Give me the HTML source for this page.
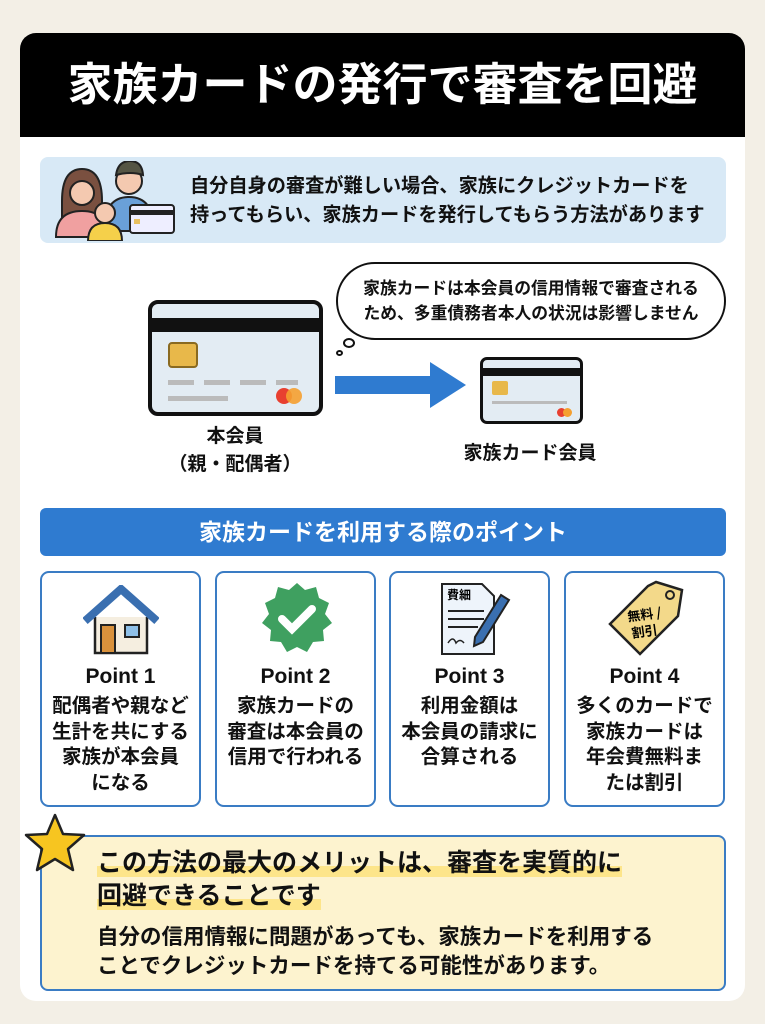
<!DOCTYPE html>
<html><head><meta charset="utf-8"><style>
*{margin:0;padding:0;box-sizing:border-box}
body{width:765px;height:1024px;background:#f3efe6;font-family:"Liberation Sans","Noto Sans CJK JP",sans-serif;position:relative;overflow:hidden;color:#111}
.abs{position:absolute}
.main{left:20px;top:33px;width:725px;height:968px;background:#fff;border-radius:16px;overflow:hidden}
.hdr{left:20px;top:33px;width:725px;height:104px;background:#000;border-radius:16px 16px 0 0;color:#fff;font-size:45px;font-weight:bold;text-align:center;line-height:104px}
.info{left:40px;top:157px;width:686px;height:86px;background:#d8e9f6;border-radius:8px}
.info p{position:absolute;left:150px;top:15px;font-size:19.2px;font-weight:bold;line-height:29px;white-space:nowrap}
.bubble{left:336px;top:262px;width:390px;height:78px;border:2px solid #111;border-radius:40px;background:#fff;font-size:16.8px;font-weight:bold;text-align:center;line-height:25px;padding-top:12px}
.card{border:4px solid #111;border-radius:10px;background:#e3ecf3;overflow:hidden}
.bar{left:40px;top:508px;width:686px;height:48px;background:#2f7bd0;border-radius:6px;color:#fff;font-size:23px;font-weight:bold;text-align:center;line-height:48px}
.pt{top:571px;width:161px;height:236px;border:2.5px solid #3a7cc4;border-radius:9px;text-align:center}
.pt h3{position:absolute;top:92px;width:100%;font-size:21px}
.pt p{position:absolute;top:121px;width:100%;font-size:19.5px;font-weight:bold;line-height:25.5px;white-space:nowrap}
.bot{left:40px;top:835px;width:686px;height:156px;background:#fdf3cf;border:2.5px solid #3a7cc4;border-radius:8px}
.hl{background:linear-gradient(transparent 60%,#fde58a 60%)}
</style></head><body>
<div class="abs main"></div>
<div class="abs hdr">家族カードの発行で審査を回避</div>
<div class="abs info">
<svg class="abs" style="left:12px;top:4px" width="125" height="80" viewBox="0 0 125 80">
<path d="M10 40 q0-32 20-32 q20 0 20 32 v18 h-40z" fill="#7a5040" stroke="#222" stroke-width="2"/>
<circle cx="30" cy="32" r="12" fill="#f4c9b0" stroke="#222" stroke-width="2"/>
<path d="M4 76 q0-26 26-26 q26 0 26 26z" fill="#f0a0a0" stroke="#222" stroke-width="2"/>
<circle cx="77" cy="20" r="13" fill="#f4c9b0" stroke="#222" stroke-width="2"/>
<path d="M64 14 q2-14 14-14 q12 0 13 14 q-12-4-27 0z" fill="#554" stroke="#222" stroke-width="2"/>
<path d="M52 70 q0-34 25-34 q25 0 25 34z" fill="#6aa0d8" stroke="#222" stroke-width="2"/>
<circle cx="53" cy="52" r="10" fill="#f4c9b0" stroke="#222" stroke-width="2"/>
<path d="M36 80 q0-18 17-18 q17 0 17 18z" fill="#f5d04a" stroke="#222" stroke-width="2"/>
<rect x="78" y="44" width="44" height="28" rx="3" fill="#eef" stroke="#222" stroke-width="2"/>
<rect x="78" y="49" width="44" height="5" fill="#222"/>
<rect x="82" y="58" width="6" height="5" fill="#e8c060"/>
</svg>
<p>自分自身の審査が難しい場合、家族にクレジットカードを<br>持ってもらい、家族カードを発行してもらう方法があります</p>
</div>
<div class="abs bubble">家族カードは本会員の信用情報で審査される<br>ため、多重債務者本人の状況は影響しません</div>
<div class="abs" style="left:343px;top:338px;width:12px;height:10px;border:2px solid #111;border-radius:50%;background:#fff"></div>
<div class="abs" style="left:336px;top:350px;width:7px;height:6px;border:2px solid #111;border-radius:50%;background:#fff"></div>
<div class="abs card" style="left:148px;top:300px;width:175px;height:116px">
<div class="abs" style="left:0;top:14px;width:100%;height:14px;background:#111"></div>
<div class="abs" style="left:16px;top:38px;width:30px;height:26px;background:#e8b84a;border:2px solid #8a6a20;border-radius:4px"></div>
<div class="abs" style="left:16px;top:76px;width:130px;height:5px;background:repeating-linear-gradient(90deg,#bbb 0 26px,transparent 26px 36px)"></div>
<div class="abs" style="left:16px;top:92px;width:60px;height:5px;background:#bbb"></div>
<div class="abs" style="left:124px;top:84px;width:16px;height:16px;border-radius:50%;background:#e84030"></div>
<div class="abs" style="left:134px;top:84px;width:16px;height:16px;border-radius:50%;background:#f5a030;opacity:.9"></div>
</div>
<div class="abs" style="left:335px;top:376px;width:100px;height:18px;background:#2f7bd0"></div>
<div class="abs" style="left:430px;top:362px;width:0;height:0;border-top:23px solid transparent;border-bottom:23px solid transparent;border-left:36px solid #2f7bd0"></div>
<div class="abs card" style="left:480px;top:357px;width:103px;height:67px;border-width:3px;border-radius:7px">
<div class="abs" style="left:0;top:8px;width:100%;height:8px;background:#111"></div>
<div class="abs" style="left:9px;top:21px;width:16px;height:14px;background:#e8b84a;border-radius:2px"></div>
<div class="abs" style="left:9px;top:41px;width:75px;height:3px;background:#bbb"></div>
<div class="abs" style="left:74px;top:48px;width:9px;height:9px;border-radius:50%;background:#e84030"></div>
<div class="abs" style="left:80px;top:48px;width:9px;height:9px;border-radius:50%;background:#f5a030"></div>
</div>
<div class="abs" style="left:150px;top:423px;width:170px;text-align:center;font-size:19px;font-weight:bold;line-height:28px">本会員<br>（親・配偶者）</div>
<div class="abs" style="left:440px;top:438px;width:180px;text-align:center;font-size:19px;font-weight:bold">家族カード会員</div>
<div class="abs bar">家族カードを利用する際のポイント</div>

<div class="abs pt" style="left:40px">
<svg class="abs" style="left:41px;top:12px" width="76" height="70" viewBox="0 0 76 70"><path d="M12 32 v36 h52 v-36" fill="#f5eee0" stroke="#222" stroke-width="2.5"/><path d="M2 36 L38 4 L74 36" fill="none" stroke="#3a6fb0" stroke-width="8"/><rect x="18" y="40" width="14" height="28" fill="#d9913c" stroke="#222" stroke-width="2"/><rect x="42" y="40" width="14" height="12" fill="#8fc0e8" stroke="#222" stroke-width="2"/></svg>
<h3>Point 1</h3><p>配偶者や親など<br>生計を共にする<br>家族が本会員<br>になる</p></div>
<div class="abs pt" style="left:215px">
<svg class="abs" style="left:45px;top:10px" width="70" height="70" viewBox="0 0 70 70"><polygon points="35,0 43,7 54,4 57,15 67,20 63,31 70,40 61,47 62,58 51,59 45,69 35,64 25,69 19,59 8,58 9,47 0,40 7,31 3,20 13,15 16,4 27,7" fill="#3fa060"/><path d="M20 36 l10 10 l20 -20" fill="none" stroke="#fff" stroke-width="8" stroke-linecap="round"/></svg>
<h3>Point 2</h3><p>家族カードの<br>審査は本会員の<br>信用で行われる</p></div>
<div class="abs pt" style="left:389px">
<svg class="abs" style="left:48px;top:8px" width="72" height="76" viewBox="0 0 72 76"><path d="M3 3 h40 l12 12 v58 h-52z" fill="#eef4fb" stroke="#222" stroke-width="2"/><text x="8" y="18" font-size="12" font-weight="bold" font-family="Noto Sans CJK JP">費細</text><path d="M9 30 h36 M9 38 h36 M9 46 h30" stroke="#222" stroke-width="2"/><path d="M9 62 q5-8 8 0 q4-5 8 0" fill="none" stroke="#222" stroke-width="1.5"/><path d="M62 14 l8 5 l-26 42 l-9 4 l1-9z" fill="#3a6fb0" stroke="#222" stroke-width="2"/></svg>
<h3>Point 3</h3><p>利用金額は<br>本会員の請求に<br>合算される</p></div>
<div class="abs pt" style="left:564px">
<svg class="abs" style="left:40px;top:6px" width="80" height="80" viewBox="0 0 80 80"><path d="M50 3 l26 8 l-4 26 l-38 38 l-30-30 l38-38z" fill="#f3d98a" stroke="#222" stroke-width="2.5"/><circle cx="64" cy="16" r="4" fill="none" stroke="#222" stroke-width="2"/><text x="22" y="40" font-size="13" font-weight="bold" font-family="Noto Sans CJK JP" transform="rotate(-8 40 40)">無料 /</text><text x="26" y="57" font-size="13" font-weight="bold" font-family="Noto Sans CJK JP" transform="rotate(-8 40 55)">割引</text></svg>
<h3>Point 4</h3><p>多くのカードで<br>家族カードは<br>年会費無料ま<br>たは割引</p></div>

<div class="abs bot">
<div class="abs" style="left:55px;top:10px;font-size:25px;font-weight:bold;line-height:33px;white-space:nowrap"><span class="hl">この方法の最大のメリットは、審査を実質的に</span><br><span class="hl">回避できることです</span></div>
<div class="abs" style="left:55px;top:86px;font-size:21.5px;font-weight:bold;line-height:29px;white-space:nowrap">自分の信用情報に問題があっても、家族カードを利用する<br>ことでクレジットカードを持てる可能性があります。</div>
</div>
<svg class="abs" style="left:23px;top:813px" width="64" height="60" viewBox="0 0 64 60"><polygon points="32,2 40,21 61,22 45,36 50,57 32,46 14,57 19,36 3,22 24,21" fill="#f7c520" stroke="#222" stroke-width="2.5" stroke-linejoin="round"/></svg>
</body></html>
